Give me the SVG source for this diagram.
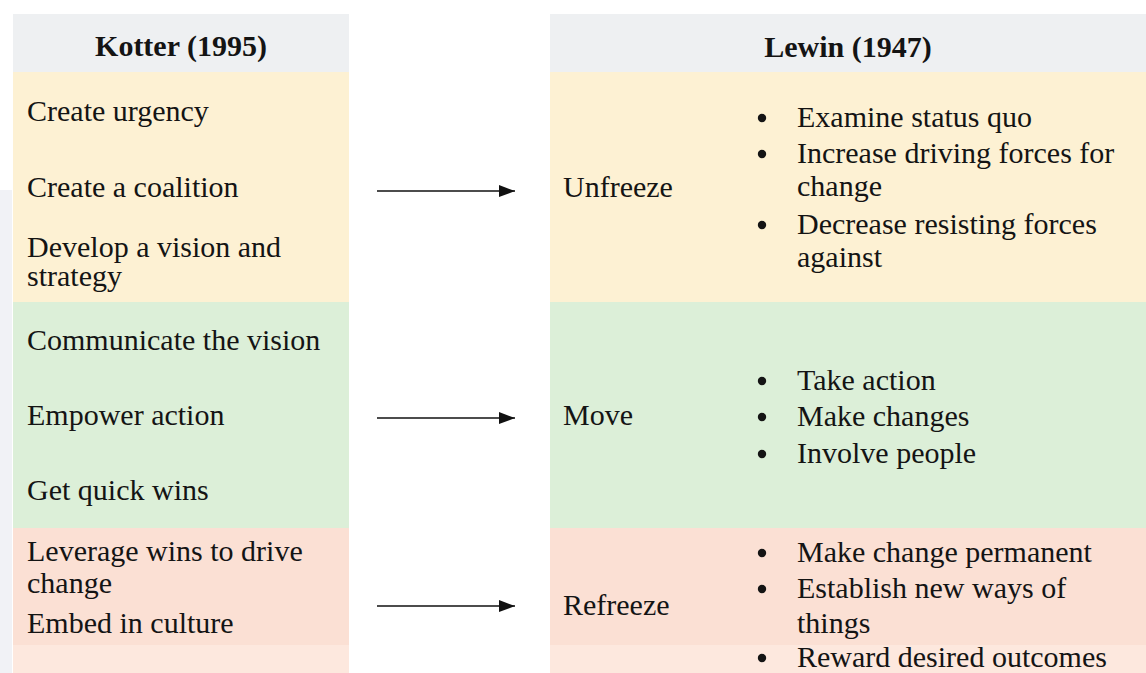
<svg xmlns="http://www.w3.org/2000/svg" width="1146" height="673" viewBox="0 0 1146 673">
  <style>
    .txt { font-family: "Liberation Serif", "Times New Roman", serif; font-size: 30px; fill: #141414; }
    .head { font-family: "Liberation Serif", "Times New Roman", serif; font-size: 30px; font-weight: bold; fill: #141414; text-anchor: middle; }
    .hdr { fill: #eef0f2; }
    .yel { fill: #fdf1d3; }
    .grn { fill: #dcefd8; }
    .red { fill: #fbe0d4; }
    .red2 { fill: #fde8de; }
    .arrow { stroke: #111; stroke-width: 1.6; fill: none; }
  </style>
  <defs>
    <marker id="head" markerUnits="userSpaceOnUse" markerWidth="16" markerHeight="12" refX="16" refY="6" orient="auto">
      <path d="M0,0 L16,6 L0,12 z" fill="#111"/>
    </marker>
  </defs>

  <rect width="1146" height="673" fill="#ffffff"/>
  <!-- faint page edge on the left -->
  <rect x="0" y="190" width="12" height="483" fill="#f1f2f6"/>

  <!-- Kotter column -->
  <g id="kotter-header">
    <rect class="hdr" x="13" y="14" width="336" height="58"/>
    <text class="head" x="181" y="56">Kotter (1995)</text>
  </g>
  <g id="kotter-unfreeze">
    <rect class="yel" x="13" y="72" width="336" height="230"/>
    <text class="txt" x="27" y="121">Create urgency</text>
    <text class="txt" x="27" y="197">Create a coalition</text>
    <text class="txt" x="27" y="257">Develop a vision and</text>
    <text class="txt" x="27" y="286">strategy</text>
  </g>
  <g id="kotter-move">
    <rect class="grn" x="13" y="302" width="336" height="226"/>
    <text class="txt" x="27" y="350">Communicate the vision</text>
    <text class="txt" x="27" y="425">Empower action</text>
    <text class="txt" x="27" y="500">Get quick wins</text>
  </g>
  <g id="kotter-refreeze">
    <rect class="red" x="13" y="528" width="336" height="145"/>
    <rect class="red2" x="13" y="645" width="336" height="28"/>
    <text class="txt" x="27" y="561">Leverage wins to drive</text>
    <text class="txt" x="27" y="593">change</text>
    <text class="txt" x="27" y="633">Embed in culture</text>
  </g>

  <!-- Lewin column -->
  <g id="lewin-header">
    <rect class="hdr" x="550" y="14" width="596" height="58"/>
    <text class="head" x="848" y="57">Lewin (1947)</text>
  </g>
  <g id="lewin-unfreeze">
    <rect class="yel" x="550" y="72" width="596" height="230"/>
    <text class="txt" x="563" y="197">Unfreeze</text>
    <circle cx="762" cy="118" r="4.2" fill="#141414"/>
    <circle cx="762" cy="154" r="4.2" fill="#141414"/>
    <circle cx="762" cy="225" r="4.2" fill="#141414"/>
    <text class="txt" x="797" y="127">Examine status quo</text>
    <text class="txt" x="797" y="163">Increase driving forces for</text>
    <text class="txt" x="797" y="196">change</text>
    <text class="txt" x="797" y="234">Decrease resisting forces</text>
    <text class="txt" x="797" y="267">against</text>
  </g>
  <g id="lewin-move">
    <rect class="grn" x="550" y="302" width="596" height="226"/>
    <text class="txt" x="563" y="425">Move</text>
    <circle cx="762" cy="381" r="4.2" fill="#141414"/>
    <circle cx="762" cy="417" r="4.2" fill="#141414"/>
    <circle cx="762" cy="454" r="4.2" fill="#141414"/>
    <text class="txt" x="797" y="390">Take action</text>
    <text class="txt" x="797" y="426">Make changes</text>
    <text class="txt" x="797" y="463">Involve people</text>
  </g>
  <g id="lewin-refreeze">
    <rect class="red" x="550" y="528" width="596" height="145"/>
    <rect class="red2" x="550" y="645" width="596" height="28"/>
    <text class="txt" x="563" y="615">Refreeze</text>
    <circle cx="762" cy="553" r="4.2" fill="#141414"/>
    <circle cx="762" cy="589" r="4.2" fill="#141414"/>
    <circle cx="762" cy="658" r="4.2" fill="#141414"/>
    <text class="txt" x="797" y="562">Make change permanent</text>
    <text class="txt" x="797" y="598">Establish new ways of</text>
    <text class="txt" x="797" y="633">things</text>
    <text class="txt" x="797" y="667">Reward desired outcomes</text>
  </g>

  <!-- Stage mapping arrows -->
  <g id="connectors">
    <line class="arrow" x1="377" y1="191" x2="515" y2="191" marker-end="url(#head)"/>
    <line class="arrow" x1="377" y1="418" x2="515" y2="418" marker-end="url(#head)"/>
    <line class="arrow" x1="377" y1="606" x2="515" y2="606" marker-end="url(#head)"/>
  </g>
</svg>
